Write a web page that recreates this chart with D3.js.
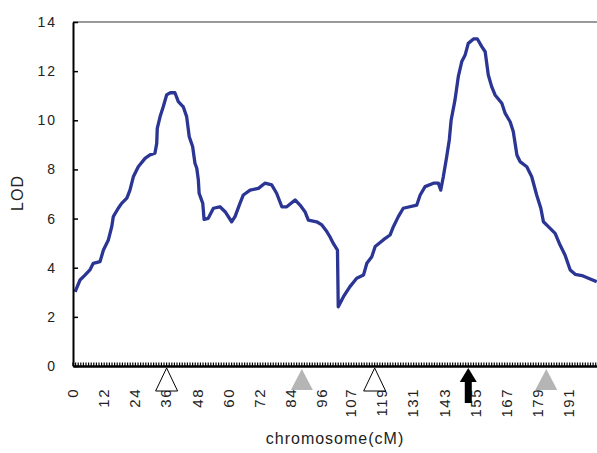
<!DOCTYPE html>
<html>
<head>
<meta charset="utf-8">
<script src="https://cdn.jsdelivr.net/npm/d3@7"></script>
<style>
  body { margin: 0; background: #fff; }
  svg { display: block; font-family: "Liberation Sans", Arial, sans-serif; }
</style>
</head>
<body>
<script>
// LOD profile along the chromosome (cM, LOD)
const positions = [0.8, 2.7, 4.6, 6.5, 7.8, 10.4, 11.7, 13.6, 14.9, 15.5, 17.4, 18.7, 20.7, 21.9, 23.2, 25.1, 27.7, 29.6, 31.5, 32.2, 32.4, 33.5, 34.7, 36.0, 37.3, 39.2, 40.5, 42.4, 43.7, 44.7, 46.0, 46.9, 47.6, 48.2, 48.5, 49.9, 50.4, 52.0, 54.0, 56.5, 58.5, 61.0, 62.3, 64.2, 65.5, 68.1, 71.3, 73.8, 76.4, 78.3, 80.3, 82.2, 85.4, 87.3, 89.2, 90.5, 93.7, 95.7, 97.6, 98.8, 100.1, 101.7, 102.0, 104.0, 106.5, 109.1, 111.7, 113.0, 114.9, 116.2, 119.3, 121.9, 123.2, 125.1, 127.0, 132.2, 133.5, 135.4, 138.6, 140.5, 141.4, 142.4, 143.7, 144.7, 145.4, 146.9, 148.2, 149.5, 150.8, 152.0, 154.0, 155.5, 157.2, 158.5, 159.7, 161.0, 162.3, 164.9, 166.2, 168.1, 169.3, 170.7, 171.9, 174.5, 176.4, 178.3, 179.9, 180.9, 182.8, 185.4, 187.3, 189.2, 191.2, 193.1, 195.7, 198.2, 201.4];
const lod = [3.02, 3.50, 3.70, 3.91, 4.18, 4.25, 4.72, 5.13, 5.67, 6.08, 6.42, 6.62, 6.83, 7.16, 7.70, 8.11, 8.45, 8.59, 8.66, 9.06, 9.67, 10.15, 10.55, 11.03, 11.12, 11.12, 10.76, 10.55, 10.15, 9.33, 8.93, 8.25, 8.05, 7.57, 7.03, 6.62, 5.97, 6.01, 6.42, 6.48, 6.28, 5.87, 6.08, 6.62, 6.96, 7.16, 7.23, 7.44, 7.37, 7.03, 6.48, 6.48, 6.76, 6.55, 6.28, 5.94, 5.87, 5.74, 5.47, 5.26, 4.99, 4.72, 2.41, 2.82, 3.23, 3.57, 3.70, 4.18, 4.45, 4.86, 5.13, 5.33, 5.67, 6.08, 6.42, 6.55, 6.96, 7.30, 7.44, 7.44, 7.16, 7.70, 8.52, 9.20, 10.0, 10.83, 11.80, 12.39, 12.66, 13.13, 13.31, 13.31, 13.00, 12.79, 11.84, 11.37, 11.03, 10.69, 10.28, 9.94, 9.54, 8.59, 8.32, 8.11, 7.70, 6.96, 6.42, 5.87, 5.67, 5.40, 4.92, 4.52, 3.91, 3.73, 3.68, 3.57, 3.43];

const xLabels = [0, 12, 24, 36, 48, 60, 72, 84, 96, 107, 119, 131, 143, 155, 167, 179, 191];
const yTicks = [0, 2, 4, 6, 8, 10, 12, 14];

// markers under the axis
const markerPos = [36, 88, 116, 152, 182];
const markerType = ['open', 'gray', 'open', 'arrow', 'gray'];

const width = 597;
const height = 453;
const mLeft = 73, mRight = 597, mTop = 22, mBottom = 366;

const x = d3.scaleLinear().domain([0, 201.5]).range([mLeft, mRight]);
const y = d3.scaleLinear().domain([0, 14]).range([mBottom, mTop]);

const svg = d3.select('body')
  .append('svg')
  .attr('width', width)
  .attr('height', height);

// top border
svg.append('line')
  .attr('x1', mLeft).attr('x2', mRight)
  .attr('y1', mTop).attr('y2', mTop)
  .attr('stroke', '#9a9a9a')
  .attr('stroke-width', 2);

// minor ticks on x axis
svg.append('g')
  .selectAll('line')
  .data(d3.range(0, 202))
  .enter()
  .append('line')
  .attr('x1', d => x(d)).attr('x2', d => x(d))
  .attr('y1', mBottom).attr('y2', mBottom - 3.5)
  .attr('stroke', '#000')
  .attr('stroke-width', 1.2);

const line = d3.line()
  .x(d => x(d[0]))
  .y(d => y(d[1]));

svg.append('path')
  .datum(positions.map((p, i) => [p, lod[i]]))
  .attr('d', line)
  .attr('fill', 'none')
  .attr('stroke', '#2b3593')
  .attr('stroke-width', 3.3)
  .attr('stroke-linejoin', 'round');

// y axis
const yAxis = svg.append('g')
  .attr('transform', `translate(${mLeft},0)`)
  .call(d3.axisLeft(y).tickValues(yTicks).tickSize(-5).tickPadding(16).tickSizeOuter(0));
yAxis.select('.domain').attr('stroke-width', 2);
yAxis.selectAll('.tick line').attr('stroke-width', 1.5);
yAxis.selectAll('text')
  .attr('font-size', 14)
  .attr('letter-spacing', 2)
  .attr('fill', '#222');

// x axis
const xAxis = svg.append('g')
  .attr('transform', `translate(0,${mBottom})`)
  .call(d3.axisBottom(x).tickValues(xLabels).tickSize(0).tickSizeOuter(0));
xAxis.select('.domain').attr('stroke-width', 2.5);
xAxis.selectAll('text')
  .attr('transform', 'rotate(-90)')
  .attr('text-anchor', 'end')
  .attr('x', -22)
  .attr('y', -1)
  .attr('dy', '0.35em')
  .attr('font-size', 15)
  .attr('letter-spacing', 1.5)
  .attr('fill', '#222');

// markers
const tri = (cx, w, h, y0) => `M${cx},${y0} L${cx - w / 2},${y0 + h} L${cx + w / 2},${y0 + h} Z`;
markerPos.forEach((p, i) => {
  const cx = x(p);
  const t = markerType[i];
  if (t === 'open') {
    svg.append('path').attr('d', tri(cx, 22, 23, mBottom + 2))
      .attr('fill', '#fff').attr('stroke', '#000').attr('stroke-width', 1);
  } else if (t === 'gray') {
    svg.append('path').attr('d', tri(cx, 22, 21, mBottom + 3))
      .attr('fill', '#b5b5b5');
  } else {
    svg.append('path').attr('d', tri(cx, 17, 14, mBottom + 2)).attr('fill', '#000');
    svg.append('rect').attr('x', cx - 3.5).attr('y', mBottom + 15)
      .attr('width', 7).attr('height', 22).attr('fill', '#000');
  }
});

svg.append('text')
  .attr('transform', 'rotate(-90)')
  .attr('x', -193)
  .attr('y', 23)
  .attr('text-anchor', 'middle')
  .attr('font-size', 16)
  .attr('letter-spacing', 1)
  .attr('fill', '#222')
  .text('LOD');

svg.append('text')
  .attr('x', 335)
  .attr('y', 444)
  .attr('text-anchor', 'middle')
  .attr('font-size', 16)
  .attr('letter-spacing', 1)
  .attr('fill', '#222')
  .text('chromosome(cM)');
</script>
</body>
</html>
